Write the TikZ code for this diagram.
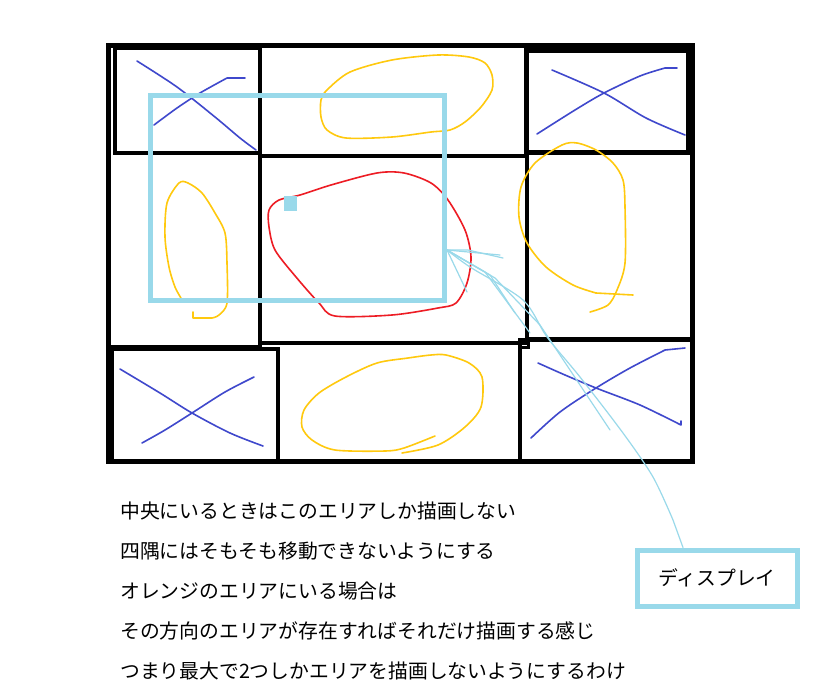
\documentclass[tikz,border=0pt]{standalone}
\usepackage{fontspec}
\newfontfamily\jp{Noto Sans CJK JP}
\definecolor{areaorange}{HTML}{FFC90E}
\definecolor{crossblue}{HTML}{3F48CC}
\definecolor{centerred}{HTML}{ED1C24}
\definecolor{viewblue}{HTML}{99D9EA}
\tikzset{
  wall/.style={draw=black,line width=4.5pt},
  pen/.style={line width=1.6pt,line join=round,line cap=round},
  ok/.style={pen,draw=areaorange},
  ng/.style={pen,draw=crossblue},
  memo/.style={anchor=base west,font=\jp\fontsize{19.8}{20}\selectfont,inner sep=0pt},
}
\begin{document}
\begin{tikzpicture}[x=1pt,y=-1pt]
\useasboundingbox[fill=white] (0,0) rectangle (837,694);

% area grid
\draw[wall,line width=5pt] (108,45) rectangle (692,461);
\draw[wall] (115,48) rectangle (260,153);
\draw[wall] (260,45) -- (260,347);
\draw[wall] (108,347) -- (260,347);
\draw[wall,line width=5pt] (526,50) rectangle (688,152);
\draw[wall] (260,156) rectangle (527,343);
\draw[wall] (527,152) -- (527,343);
\draw[wall] (527,339) -- (692,339);
\draw[black,line width=3pt] (519,339) rectangle (528,347);
\draw[wall] (112,349) rectangle (278,461);
\draw[wall] (520,340) rectangle (692,461);

% corners: no entry
\draw[ng] plot[smooth] coordinates {(137,61) (177,87) (215,117) (240,138) (256,150)};
\draw[ng] plot[smooth] coordinates {(154,125) (177,108) (200,93) (227,78)} -- (245,78);
\draw[ng] plot[smooth] coordinates {(552,70) (604,93) (646,118) (685,135)};
\draw[ng] plot[smooth] coordinates {(537,134) (575,110) (604,93) (640,76) (665,68)} -- (677,68);
\draw[ng] plot[smooth] coordinates {(120,369) (160,393) (192,413) (230,433) (263,446)};
\draw[ng] plot[smooth] coordinates {(142,443) (165,430) (192,413) (225,392) (254,377)};
\draw[ng] plot[smooth] coordinates {(538,363) (565,375) (596,388) (640,405) (681,425)} -- (681,421);
\draw[ng] plot[smooth] coordinates {(531,438) (560,412) (596,388) (630,368) (665,350)} -- (685,348);

% side areas
\draw[ok] plot[smooth cycle] coordinates {(327,90) (350,72) (392,60) (438,55) (469,57) (485,63) (492,75) (492,90) (481,107) (465,122) (450,130) (431,132) (392,137) (346,138) (327,130) (321,117) (321,100)};
\draw[ok] plot[smooth] coordinates {(181,298) (175,287) (169,267) (165,237) (167,203) (179,183) (188,183) (202,193) (215,213) (225,233) (227,263) (227,303) (219,315) (212,318)} -- (193,318) -- (193,312);
\draw[ok] (633,295) -- (596,293);
\draw[ok] plot[smooth] coordinates {(596,293) (573,285) (546,267) (527,243) (519,217) (521,187) (535,163) (562,145) (577,143) (596,150) (613,163) (623,180) (625,207) (625,263) (617,290) (608,305) (590,312)};
\draw[ok] plot[smooth] coordinates {(435,436) (404,448) (385,451) (335,450) (312,440) (302,427) (304,410) (319,393) (346,377) (377,363) (408,358) (431,355) (446,355) (469,363) (482,377) (481,407) (465,427) (438,445) (402,453)};

% center area
\draw[pen,centerred] plot[smooth cycle] coordinates {(279,200) (300,195) (331,185) (377,173) (404,173) (431,183) (448,200) (465,230) (471,257) (467,283) (456,303) (438,308) (392,315) (335,316) (319,303) (296,277) (275,250) (269,227) (269,210)};

% display
\node[draw=viewblue,line width=5pt,minimum width=294pt,minimum height=205pt,inner sep=0pt] (view) at (297,197.5) {};
\fill[viewblue] (284,196) rectangle (297,211);
\node[draw=viewblue,line width=5pt,minimum width=160pt,minimum height=56pt,font=\jp\fontsize{19.8}{20}\selectfont] (disp) at (717,578) {ディスプレイ};
\coordinate (tip) at (447,250);
\draw[pen,viewblue,line width=1.2pt] (tip) -- (468,250) -- (503,258);
\draw[pen,viewblue,line width=1.2pt] (tip) -- (500,255);
\draw[pen,viewblue,line width=1.2pt] (tip) -- (467,292);
\draw[pen,viewblue,line width=1.2pt] (tip) -- (490,275) -- (515,313);
\draw[pen,viewblue,line width=1.2pt] (tip) -- (485,272) -- (530,333);
\draw[pen,viewblue,line width=1.2pt] (tip) -- (495,278) -- (540,325) -- (610,430);
\draw[pen,viewblue,line width=1.2pt] plot[smooth] coordinates {(tip) (470,267) (523,300) (547,337) (580,377) (623,433) (653,477) (673,520)} -- ([xshift=-34pt]disp.north);

% notes
\node[memo] (l1) at (120,518) {中央にいるときはこのエリアしか描画しない};
\node[memo] (l2) at (120,558) {四隅にはそもそも移動できないようにする};
\node[memo] (l3) at (120,598) {オレンジのエリアにいる場合は};
\node[memo] (l4) at (120,638) {その方向のエリアが存在すればそれだけ描画する感じ};
\node[memo] (l5) at (120,678) {つまり最大で2つしかエリアを描画しないようにするわけ};
\end{tikzpicture}
\end{document}
